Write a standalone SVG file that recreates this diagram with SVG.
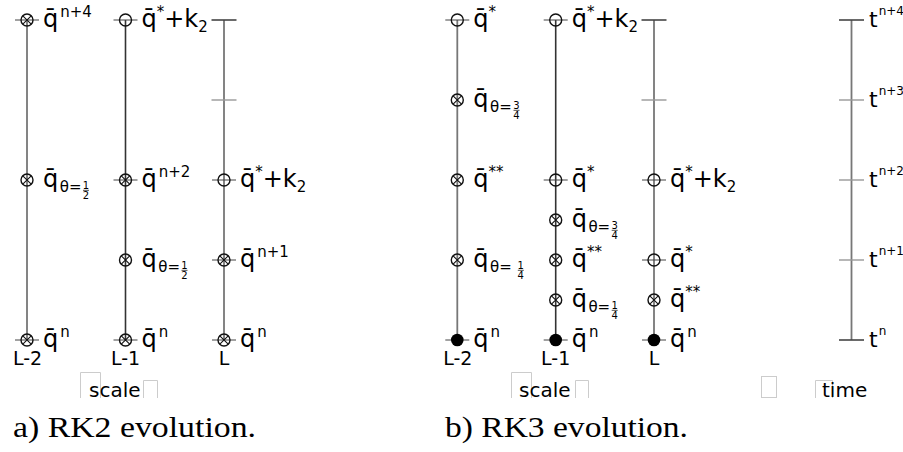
<svg xmlns="http://www.w3.org/2000/svg" xmlns:xlink="http://www.w3.org/1999/xlink" width="903" height="452" viewBox="0 0 903 452">
<style>
.c{fill:none;stroke:#111;stroke-width:1.4}
.x{stroke:#111;stroke-width:1.1;fill:none}
.tk{stroke:#444;stroke-width:1}
.col{stroke:#777;stroke-width:1.8;fill:none}
.colD{stroke:#333;stroke-width:1.6;fill:none}
.tkD{stroke:#444;stroke-width:1.6}
.tkL{stroke:#999;stroke-width:1.4}
.box{fill:none;stroke:#ccc;stroke-width:1}
text{font-family:"DejaVu Sans",sans-serif;fill:#000}
.lb{font-size:24px}
.sup{font-size:15px}
.sub{font-size:15px}
.fr{font-size:10px;text-anchor:middle}
.fb{stroke:#000;stroke-width:0.7}
.ax{font-size:19px;text-anchor:middle}
.tl{font-size:22px}
.ts{font-size:12px}
.sc{font-size:20px}
.cap{font-family:"Liberation Serif","Times New Roman",serif;font-size:30px}
</style>
<defs>
<g id="oc"><circle r="6" class="c"/></g>
<g id="ox"><circle r="6" class="c"/><path d="M-4.2,-4.2L4.2,4.2M-4.2,4.2L4.2,-4.2" class="x"/></g>
<g id="fc"><circle r="6.3" fill="#000"/></g>
<path id="tk" d="M-12,0H12" class="tk"/>
</defs>

<g id="connectors">
<path class="col" d="M27,20V340"/>
<path class="colD" d="M125.5,20V340"/>
<path class="col" d="M224,20V340"/>
<path class="col" d="M457.3,20V340"/>
<path class="colD" d="M555.7,20V340"/>
<path class="col" d="M654,20V340"/>
<path class="col" d="M851.5,20V340"/>
</g>

<!-- Left panel -->
<g id="nA20"><use href="#tk" x="27" y="20"/><use href="#ox" x="27" y="20"/>
<text class="lb" x="43" y="27">q&#x0304;<tspan class="sup" dx="2" dy="-10">n+4</tspan></text></g>
<g id="nA180"><use href="#ox" x="27" y="180"/>
<text class="lb" x="43" y="187">q&#x0304;<tspan class="sub" dx="1.5" dy="5">θ=</tspan></text>
<text class="fr" x="86" y="188.5">1</text><path class="fb" d="M83,190.3H89"/><text class="fr" x="86" y="198.5">2</text></g>
<g id="nA340"><use href="#tk" x="27" y="340"/><use href="#ox" x="27" y="340"/>
<text class="lb" x="43" y="347">q&#x0304;<tspan class="sup" dx="2" dy="-10">n</tspan></text>
<text class="ax" x="27.5" y="365">L-2</text></g>

<g id="nB20"><use href="#tk" x="125.5" y="20"/><use href="#oc" x="125.5" y="20"/>
<text class="lb" x="141.5" y="27">q&#x0304;<tspan class="sup" dy="-10">*</tspan><tspan dy="10">+k</tspan><tspan class="sub" dy="5">2</tspan></text></g>
<g id="nB180"><use href="#tk" x="125.5" y="180"/><use href="#ox" x="125.5" y="180"/>
<text class="lb" x="141.5" y="187">q&#x0304;<tspan class="sup" dx="2" dy="-10">n+2</tspan></text></g>
<g id="nB260"><use href="#ox" x="125.5" y="260"/>
<text class="lb" x="141.5" y="267">q&#x0304;<tspan class="sub" dx="1.5" dy="5">θ=</tspan></text>
<text class="fr" x="184.5" y="268.5">1</text><path class="fb" d="M181.5,270.3H187.5"/><text class="fr" x="184.5" y="278.5">2</text></g>
<g id="nB340"><use href="#tk" x="125.5" y="340"/><use href="#ox" x="125.5" y="340"/>
<text class="lb" x="141.5" y="347">q&#x0304;<tspan class="sup" dx="2" dy="-10">n</tspan></text>
<text class="ax" x="125.5" y="365">L-1</text></g>

<g id="nC20"><path class="tkD" d="M211.5,20H236.5"/></g>
<g id="nC100"><path class="tkL" d="M211.5,100H236.5"/></g>
<g id="nC180"><use href="#tk" x="224" y="180"/><use href="#oc" x="224" y="180"/>
<text class="lb" x="240" y="187">q&#x0304;<tspan class="sup" dy="-10">*</tspan><tspan dy="10">+k</tspan><tspan class="sub" dy="5">2</tspan></text></g>
<g id="nC260"><use href="#tk" x="224" y="260"/><use href="#ox" x="224" y="260"/>
<text class="lb" x="240" y="267">q&#x0304;<tspan class="sup" dx="2" dy="-10">n+1</tspan></text></g>
<g id="nC340"><use href="#tk" x="224" y="340"/><use href="#ox" x="224" y="340"/>
<text class="lb" x="240" y="347">q&#x0304;<tspan class="sup" dx="2" dy="-10">n</tspan></text>
<text class="ax" x="224" y="365">L</text></g>

<!-- Right panel -->
<g id="nD20"><use href="#tk" x="457.3" y="20"/><use href="#oc" x="457.3" y="20"/>
<text class="lb" x="473.3" y="27">q&#x0304;<tspan class="sup" dy="-10">*</tspan></text></g>
<g id="nD100"><use href="#ox" x="457.3" y="100"/>
<text class="lb" x="473.3" y="107">q&#x0304;<tspan class="sub" dx="1.5" dy="5">θ=</tspan></text>
<text class="fr" x="516.5" y="108.5">3</text><path class="fb" d="M513.5,110.3H519.5"/><text class="fr" x="516.5" y="118.5">4</text></g>
<g id="nD180"><use href="#ox" x="457.3" y="180"/>
<text class="lb" x="473.3" y="187">q&#x0304;<tspan class="sup" dy="-10">**</tspan></text></g>
<g id="nD260"><use href="#ox" x="457.3" y="260"/>
<text class="lb" x="473.3" y="267">q&#x0304;<tspan class="sub" dx="1.5" dy="5">θ=</tspan></text>
<text class="fr" x="520.8" y="268.5">1</text><path class="fb" d="M517.8,270.3H523.8"/><text class="fr" x="520.8" y="278.5">4</text></g>
<g id="nD340"><use href="#tk" x="457.3" y="340"/><use href="#fc" x="457.3" y="340"/>
<text class="lb" x="473.3" y="347">q&#x0304;<tspan class="sup" dx="2" dy="-10">n</tspan></text>
<text class="ax" x="457.8" y="365">L-2</text></g>

<g id="nE20"><use href="#tk" x="555.7" y="20"/><use href="#oc" x="555.7" y="20"/>
<text class="lb" x="571.7" y="27">q&#x0304;<tspan class="sup" dy="-10">*</tspan><tspan dy="10">+k</tspan><tspan class="sub" dy="5">2</tspan></text></g>
<g id="nE180"><use href="#tk" x="555.7" y="180"/><use href="#oc" x="555.7" y="180"/>
<text class="lb" x="571.7" y="187">q&#x0304;<tspan class="sup" dy="-10">*</tspan></text></g>
<g id="nE220"><use href="#ox" x="555.7" y="220"/>
<text class="lb" x="571.7" y="227">q&#x0304;<tspan class="sub" dx="1.5" dy="5">θ=</tspan></text>
<text class="fr" x="614.7" y="228.5">3</text><path class="fb" d="M611.7,230.3H617.7"/><text class="fr" x="614.7" y="238.5">4</text></g>
<g id="nE260"><use href="#ox" x="555.7" y="260"/>
<text class="lb" x="571.7" y="267">q&#x0304;<tspan class="sup" dy="-10">**</tspan></text></g>
<g id="nE300"><use href="#ox" x="555.7" y="300"/>
<text class="lb" x="571.7" y="307">q&#x0304;<tspan class="sub" dx="1.5" dy="5">θ=</tspan></text>
<text class="fr" x="614.7" y="308.5">1</text><path class="fb" d="M611.7,310.3H617.7"/><text class="fr" x="614.7" y="318.5">4</text></g>
<g id="nE340"><use href="#tk" x="555.7" y="340"/><use href="#fc" x="555.7" y="340"/>
<text class="lb" x="571.7" y="347">q&#x0304;<tspan class="sup" dx="2" dy="-10">n</tspan></text>
<text class="ax" x="555.7" y="365">L-1</text></g>

<g id="nF20"><path class="tkD" d="M641.5,20H666.5"/></g>
<g id="nF100"><path class="tkL" d="M641.5,100H666.5"/></g>
<g id="nF180"><use href="#tk" x="654" y="180"/><use href="#oc" x="654" y="180"/>
<text class="lb" x="670" y="187">q&#x0304;<tspan class="sup" dy="-10">*</tspan><tspan dy="10">+k</tspan><tspan class="sub" dy="5">2</tspan></text></g>
<g id="nF260"><use href="#tk" x="654" y="260"/><use href="#oc" x="654" y="260"/>
<text class="lb" x="670" y="267">q&#x0304;<tspan class="sup" dy="-10">*</tspan></text></g>
<g id="nF300"><use href="#ox" x="654" y="300"/>
<text class="lb" x="670" y="307">q&#x0304;<tspan class="sup" dy="-10">**</tspan></text></g>
<g id="nF340"><use href="#tk" x="654" y="340"/><use href="#fc" x="654" y="340"/>
<text class="lb" x="670" y="347">q&#x0304;<tspan class="sup" dx="2" dy="-10">n</tspan></text>
<text class="ax" x="654" y="365">L</text></g>

<!-- Time axis -->
<g id="t4"><path class="tkD" d="M839,20H864"/><text class="tl" x="869" y="27">t<tspan class="ts" dx="1" dy="-12">n+4</tspan></text></g>
<g id="t3"><path class="tkL" d="M839,100H864"/><text class="tl" x="869" y="107">t<tspan class="ts" dx="1" dy="-12">n+3</tspan></text></g>
<g id="t2"><path class="tkL" d="M839,180H864"/><text class="tl" x="869" y="187">t<tspan class="ts" dx="1" dy="-12">n+2</tspan></text></g>
<g id="t1"><path class="tkL" d="M839,260H864"/><text class="tl" x="869" y="267">t<tspan class="ts" dx="1" dy="-12">n+1</tspan></text></g>
<g id="t0"><path class="tkD" d="M839,340H864"/><text class="tl" x="869" y="347">t<tspan class="ts" dx="1" dy="-12">n</tspan></text></g>

<!-- scale/time labels with boxes -->
<g id="scaleA">
<path class="box" d="M80.5,398V372.5H100.5V398"/>
<path class="box" d="M143.5,398V380.5H157.5V398"/>
<text class="sc" x="89" y="397">scale</text>
</g>
<g id="scaleB">
<path class="box" d="M511.5,398V372.5H531.5V398"/>
<path class="box" d="M575.5,398V380.5H588.5V398"/>
<text class="sc" x="519" y="397">scale</text>
</g>
<g id="timeLbl">
<rect class="box" x="761.5" y="376.5" width="15" height="21"/>
<path class="box" d="M815.5,398V380.5H832.5V398"/>
<text class="sc" x="822" y="397">time</text>
</g>

<g id="captions">
<text class="cap" x="13" y="437" textLength="243" lengthAdjust="spacingAndGlyphs">a) RK2 evolution.</text>
<text class="cap" x="445" y="437" textLength="243" lengthAdjust="spacingAndGlyphs">b) RK3 evolution.</text>
</g>
</svg>
